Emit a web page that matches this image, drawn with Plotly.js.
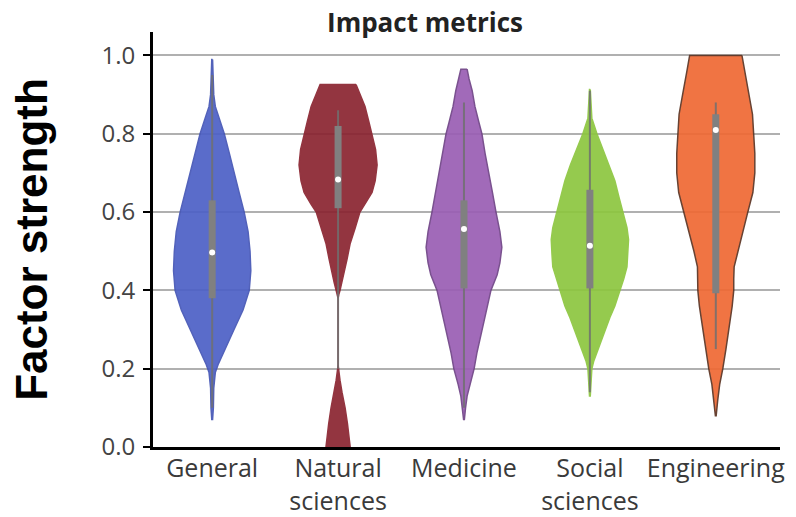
<!DOCTYPE html>
<html>
<head>
<meta charset="utf-8">
<script src="https://cdn.plot.ly/plotly-3.0.1.min.js"></script>
<style>html,body{margin:0;padding:0;background:#fff;}#chart{width:796px;height:517px;}</style>
</head>
<body>
<div id="chart"></div>
<script>
// ---- data ----
const categories = ["General", "Natural<br>sciences", "Medicine", "Social<br>sciences", "Engineering"];

// violin outlines: y levels and relative half-widths (density, 1 = widest)
const generalLevels  = [0.99,0.95,0.90,0.87,0.84,0.80,0.75,0.70,0.65,0.60,0.55,0.50,0.45,0.40,0.35,0.30,0.25,0.21,0.19,0.15,0.10,0.07];
const generalDensity = [0.01,0.03,0.04,0.08,0.18,0.31,0.44,0.56,0.69,0.82,0.92,0.97,0.99,0.95,0.79,0.56,0.33,0.15,0.08,0.04,0.03,0.01];

const naturalLevels  = [0.926,0.90,0.87,0.83,0.80,0.76,0.72,0.68,0.65,0.62,0.60,0.56,0.52,0.48,0.45,0.42,0.40,0.39,0.38,0.21,0.20,0.17,0.14,0.10,0.06,0.03,0.0];
const naturalDensity = [0.46,0.56,0.69,0.79,0.87,0.96,1.00,0.95,0.87,0.69,0.56,0.44,0.31,0.23,0.17,0.10,0.05,0.02,0.0,0.0,0.01,0.05,0.10,0.18,0.24,0.28,0.31];

const medicineLevels  = [0.965,0.94,0.91,0.87,0.83,0.80,0.75,0.70,0.65,0.60,0.55,0.51,0.47,0.44,0.40,0.36,0.32,0.28,0.24,0.20,0.16,0.13,0.10,0.07];
const medicineDensity = [0.08,0.13,0.21,0.28,0.38,0.46,0.54,0.64,0.73,0.82,0.92,0.97,0.92,0.85,0.69,0.60,0.51,0.42,0.33,0.26,0.15,0.08,0.04,0.01];

const socialLevels  = [0.913,0.88,0.84,0.80,0.76,0.72,0.68,0.64,0.60,0.56,0.53,0.49,0.46,0.43,0.40,0.36,0.33,0.29,0.25,0.22,0.20,0.17,0.13];
const socialDensity = [0.01,0.03,0.05,0.18,0.33,0.50,0.64,0.74,0.85,0.95,0.99,0.97,0.95,0.87,0.77,0.64,0.51,0.36,0.21,0.10,0.05,0.03,0.01];

const engineeringLevels  = [1.0,0.96,0.93,0.90,0.85,0.80,0.75,0.70,0.65,0.60,0.55,0.50,0.46,0.43,0.40,0.36,0.33,0.29,0.25,0.20,0.16,0.12,0.08];
const engineeringDensity = [0.67,0.74,0.79,0.85,0.94,0.97,1.00,1.00,0.95,0.82,0.69,0.56,0.47,0.46,0.46,0.42,0.38,0.32,0.26,0.18,0.10,0.05,0.01];

// inner box plots
const q1Values     = [0.38, 0.61, 0.405, 0.405, 0.393];
const medianValues = [0.497, 0.683, 0.557, 0.514, 0.81];
const q3Values     = [0.63, 0.82, 0.63, 0.657, 0.85];
const lowerValues  = [0.10, 0.20, 0.10, 0.14, 0.25];
const upperValues  = [0.95, 0.86, 0.88, 0.91, 0.88];

const yTickVals  = [0.0, 0.2, 0.4, 0.6, 0.8, 1.0];
const yTickText  = ["0.0", "0.2", "0.4", "0.6", "0.8", "1.0"];

// ---- styling ----
const fillColors = ["#4d60c6", "#8a2430", "#9a5eb4", "#8dc63f", "#ef6934"];
const lineColors = ["#4455b5", "#8a2430", "#6f4386", "#8dc63f", "#5b3322"];
const maxHalfWidth = 0.31;

const profiles = [
  [generalLevels, generalDensity],
  [naturalLevels, naturalDensity],
  [medicineLevels, medicineDensity],
  [socialLevels, socialDensity],
  [engineeringLevels, engineeringDensity]
];

const traces = [];
profiles.forEach(([lv, dens], i) => {
  const xs = [], ys = [];
  for (let k = 0; k < lv.length; k++) { xs.push(i + dens[k] * maxHalfWidth); ys.push(lv[k]); }
  for (let k = lv.length - 1; k >= 0; k--) { xs.push(i - dens[k] * maxHalfWidth); ys.push(lv[k]); }
  xs.push(xs[0]); ys.push(ys[0]);
  traces.push({
    type: "scatter", mode: "lines", x: xs, y: ys, fill: "toself",
    fillcolor: fillColors[i], opacity: 0.92,
    line: { color: lineColors[i], width: 1.5 },
    hoverinfo: "skip", showlegend: false
  });
});

// whiskers (thin) and inter-quartile bars (thick)
categories.forEach((c, i) => {
  traces.push({
    type: "scatter", mode: "lines", x: [i, i], y: [lowerValues[i], upperValues[i]],
    line: { color: "#707070", width: 2 }, opacity: 0.85,
    showlegend: false, hoverinfo: "skip"
  });
});
categories.forEach((c, i) => {
  traces.push({
    type: "scatter", mode: "lines", x: [i, i], y: [q1Values[i], q3Values[i]],
    line: { color: "#808080", width: 7 },
    showlegend: false, hoverinfo: "skip"
  });
});

traces.push({
  type: "scatter", mode: "markers", x: [0,1,2,3,4], y: medianValues,
  marker: { color: "#ffffff", size: 6 }, showlegend: false, hoverinfo: "skip"
});

const layout = {
  width: 796, height: 517,
  margin: { l: 153, r: 16, t: 32, b: 70 },
  paper_bgcolor: "#fff", plot_bgcolor: "#fff",
  showlegend: false,
  title: {
    text: "Impact metrics",
    font: { family: "Open Sans", size: 26, weight: "bold", color: "#222" },
    x: 425 / 796, xref: "container", xanchor: "center",
    y: 1 - 23 / 517, yref: "container", yanchor: "middle"
  },
  xaxis: {
    range: [-0.47, 4.51], tickvals: [0,1,2,3,4], ticktext: categories,
    showline: true, linecolor: "#000", linewidth: 3,
    showgrid: false, zeroline: false, ticks: "",
    tickfont: { family: "Open Sans", size: 25, color: "#3a3a3a" },
    ticklabelstandoff: -3,
    fixedrange: true
  },
  yaxis: {
    range: [0, 1.06], tickvals: yTickVals, ticktext: yTickText,
    showline: true, linecolor: "#000", linewidth: 3,
    ticks: "outside", ticklen: 7, tickwidth: 2, tickcolor: "#000",
    showgrid: true, gridcolor: "#b0b0b0", gridwidth: 2, zeroline: false,
    tickfont: { family: "Open Sans", size: 24, color: "#444" },
    ticklabelstandoff: 3,
    title: {
      text: "Factor strength",
      font: { family: "Liberation Sans, Arial", size: 44, weight: "bold", color: "#000" },
      standoff: 41
    },
    fixedrange: true
  }
};

Plotly.newPlot("chart", traces, layout, { displayModeBar: false, staticPlot: true });
</script>
</body>
</html>
